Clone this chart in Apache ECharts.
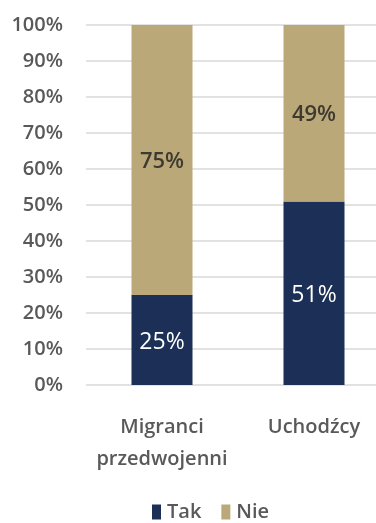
<!DOCTYPE html>
<html>
<head>
<meta charset="utf-8">
<script src="https://cdn.jsdelivr.net/npm/echarts@6/dist/echarts.min.js"></script>
<style>
  html, body { margin: 0; padding: 0; background: #ffffff; }
  #chart { width: 376px; height: 523px; }
</style>
</head>
<body>
<div id="chart"></div>
<script>
// Share of answers per group (percent)
const categories = ['Migranci\nprzedwojenni', 'Uchodźcy'];
const takValues = [25, 51];
const nieValues = [75, 49];
const yTicks = [0, 10, 20, 30, 40, 50, 60, 70, 80, 90, 100];

const FONT = '"Open Sans", "DejaVu Sans", sans-serif';

const chart = echarts.init(document.getElementById('chart'));
chart.setOption({
  animation: false,
  textStyle: { fontFamily: FONT },
  grid: { left: 86, top: 25, right: -14, height: 360, containLabel: false, outerBoundsMode: 'none' },
  xAxis: {
    type: 'category',
    data: categories,
    axisLine: { show: false },
    axisTick: { show: false },
    axisLabel: {
      interval: 0,
      margin: 26,
      fontSize: 20,
      lineHeight: 32,
      color: '#595959',
      fontWeight: 600,
      fontFamily: FONT
    }
  },
  yAxis: {
    type: 'value',
    min: yTicks[0],
    max: yTicks[yTicks.length - 1],
    interval: yTicks[1] - yTicks[0],
    axisLine: { show: false },
    axisTick: { show: false },
    splitLine: { lineStyle: { color: '#d9d9d9', width: 1.5 } },
    axisLabel: {
      margin: 23,
      fontSize: 20,
      color: '#595959',
      fontWeight: 600,
      fontFamily: FONT,
      formatter: v => v + '%'
    }
  },
  legend: {
    top: 497,
    left: 147,
    itemWidth: 9,
    itemHeight: 15,
    itemGap: 20,
    icon: 'rect',
    textStyle: { fontSize: 20, color: '#595959', fontWeight: 600, fontFamily: FONT, padding: [0, 0, 0, 1] },
    data: ['Tak', 'Nie']
  },
  series: [
    {
      name: 'Tak',
      type: 'bar',
      stack: 'total',
      barWidth: 61,
      data: takValues,
      itemStyle: { color: '#1b2f57' },
      label: {
        show: true,
        position: 'inside',
        offset: [0, 2],
        formatter: p => p.value + '%',
        color: '#ffffff',
        fontSize: 23,
        fontFamily: FONT
      }
    },
    {
      name: 'Nie',
      type: 'bar',
      stack: 'total',
      barWidth: 61,
      data: nieValues,
      itemStyle: { color: '#bba878' },
      label: {
        show: true,
        position: 'inside',
        offset: [0, 2],
        formatter: p => p.value + '%',
        color: '#3d3a32',
        fontSize: 22,
        fontWeight: 600,
        fontFamily: FONT
      }
    }
  ]
});
</script>
</body>
</html>
